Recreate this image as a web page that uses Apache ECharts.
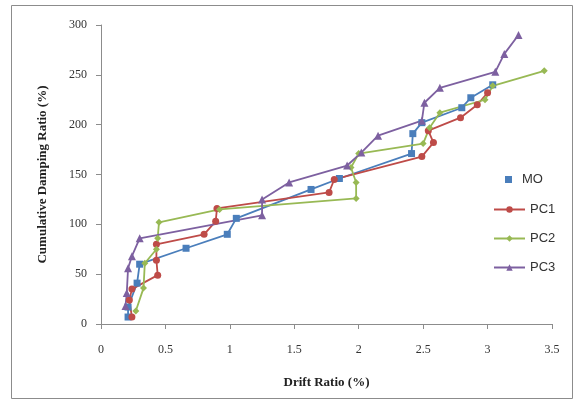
<!DOCTYPE html>
<html>
<head>
<meta charset="utf-8">
<script src="https://cdn.jsdelivr.net/npm/echarts@6/dist/echarts.min.js"></script>
<style>
    html, body { margin: 0; padding: 0; background: #fff; }
    #chartContainer { width: 574px; height: 403px; }
</style>
</head>
<body>
<div id="chartContainer"></div>
<script>
// 数据：每条曲线的 [Drift Ratio, Cumulative Damping Ratio]
var moData = [[0.21, 7], [0.21, 17], [0.28, 41], [0.30, 60], [0.66, 76], [0.98, 90], [1.05, 106],
    [1.63, 135], [1.85, 146], [2.41, 171], [2.42, 191], [2.49, 202], [2.80, 217], [2.87, 227], [3.04, 240]];
var pc1Data = [[0.24, 7], [0.22, 24], [0.24, 35], [0.44, 49], [0.43, 64], [0.43, 80], [0.80, 90],
    [0.89, 103], [0.90, 116], [1.77, 132], [1.81, 145], [2.49, 168], [2.58, 182], [2.54, 194],
    [2.79, 207], [2.92, 220], [3.00, 232]];
var pc2Data = [[0.27, 13], [0.33, 36], [0.34, 61], [0.43, 75], [0.44, 86], [0.45, 102], [0.92, 115],
    [1.98, 126], [1.98, 142], [1.94, 157], [2.00, 171], [2.50, 181], [2.55, 197], [2.63, 212],
    [2.98, 225], [3.04, 239], [3.44, 254]];
var pc3Data = [[0.19, 18], [0.20, 31], [0.21, 56], [0.24, 68], [0.30, 86], [1.25, 109], [1.25, 125],
    [1.46, 142], [1.91, 159], [2.02, 172], [2.15, 189], [2.49, 204], [2.51, 222], [2.63, 237],
    [3.06, 253], [3.13, 271], [3.24, 290]];

var seriesNames = ['MO', 'PC1', 'PC2', 'PC3'];
var xTitle = 'Drift Ratio (%)';
var yTitle = 'Cumulative Damping Ratio (%)';

var chart = echarts.init(document.getElementById('chartContainer'));

// 生成一条折线
function makeSeries(name, data, color, symbol, size) {
    return {
        name: name,
        type: 'line',
        data: data,
        symbol: symbol,
        symbolSize: size,
        showSymbol: true,
        itemStyle: { color: color },
        lineStyle: { color: color, width: 1.8 },
        animation: false
    };
}

var serifFont = '"Liberation Serif", "DejaVu Serif", serif';
var sansFont = '"Liberation Sans", Arial, sans-serif';

var option = {
    backgroundColor: '#fff',
    graphic: [{
        type: 'rect',
        shape: { x: 11.5, y: 5.5, width: 561, height: 393 },
        style: { fill: 'none', stroke: '#8c8c8c', lineWidth: 1 },
        silent: true
    }],
    grid: { left: 101, right: 22, top: 25, bottom: 79 },
    legend: [{
        data: ['MO'],
        orient: 'vertical',
        left: 500,
        top: 168,
        icon: 'rect',
        itemWidth: 7,
        itemHeight: 7,
        textStyle: { fontFamily: sansFont, fontSize: 13, color: '#333', padding: [0, 0, 0, 5] }
    }, {
        data: ['PC1', 'PC2', 'PC3'],
        orient: 'vertical',
        left: 488,
        top: 198,
        itemWidth: 31,
        itemHeight: 8,
        itemGap: 16,
        textStyle: { fontFamily: sansFont, fontSize: 13, color: '#333' }
    }],
    xAxis: {
        type: 'value',
        min: 0,
        max: 3.5,
        interval: 0.5,
        name: xTitle,
        nameLocation: 'middle',
        nameGap: 52,
        nameTextStyle: { fontFamily: serifFont, fontWeight: 'bold', fontSize: 13, color: '#222' },
        axisLine: { lineStyle: { color: '#8c8c8c' } },
        axisTick: { show: true, length: 5, lineStyle: { color: '#8c8c8c' } },
        axisLabel: { fontFamily: serifFont, fontSize: 12, color: '#333', margin: 20 },
        splitLine: { show: false }
    },
    yAxis: {
        type: 'value',
        min: 0,
        max: 300,
        interval: 50,
        name: yTitle,
        nameLocation: 'middle',
        nameGap: 52,
        nameTextStyle: { fontFamily: serifFont, fontWeight: 'bold', fontSize: 13, color: '#222' },
        axisLine: { show: true, lineStyle: { color: '#8c8c8c' } },
        axisTick: { show: true, length: 5, lineStyle: { color: '#8c8c8c' } },
        axisLabel: { fontFamily: serifFont, fontSize: 12, color: '#333', margin: 14 },
        splitLine: { show: false }
    },
    series: [
        makeSeries(seriesNames[0], moData, '#4a7ebb', 'rect', 7),
        makeSeries(seriesNames[1], pc1Data, '#be4b48', 'circle', 7),
        makeSeries(seriesNames[2], pc2Data, '#98b954', 'diamond', 7),
        makeSeries(seriesNames[3], pc3Data, '#7d60a0', 'triangle', 8)
    ]
};

chart.setOption(option);
</script>
</body>
</html>
